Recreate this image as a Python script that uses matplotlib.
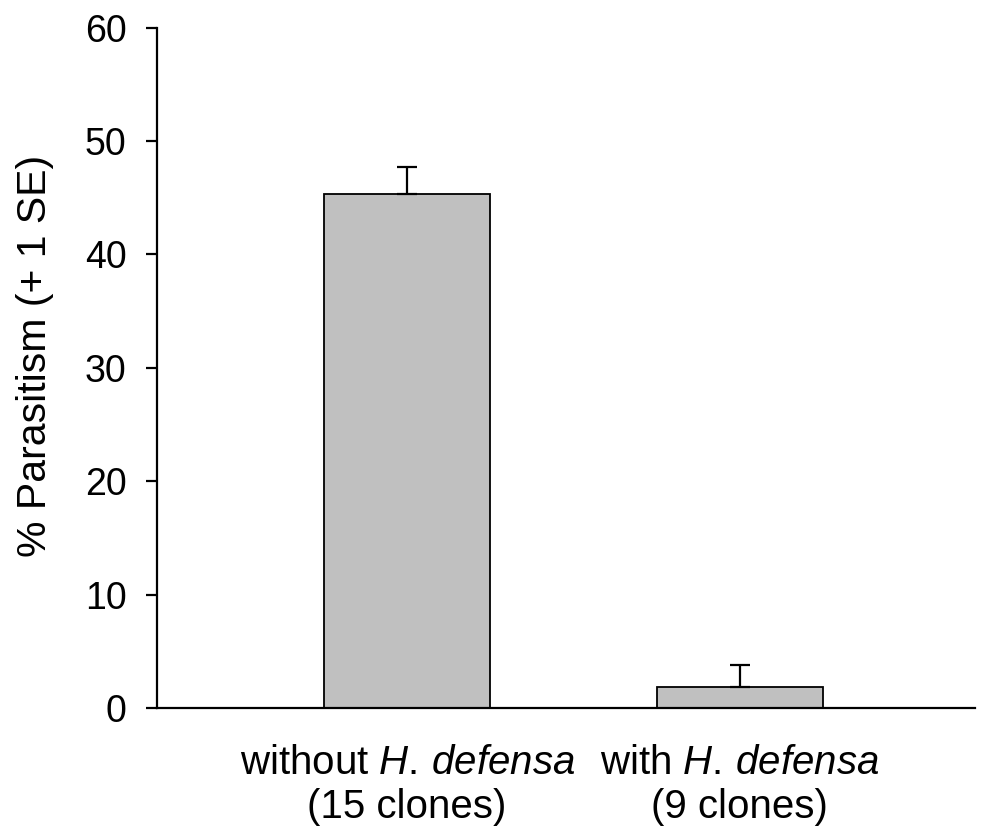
import matplotlib
matplotlib.use('Agg')
import matplotlib.pyplot as plt

plt.rcParams['font.family'] = ['Liberation Sans', 'DejaVu Sans']
plt.rcParams['mathtext.fontset'] = 'custom'
plt.rcParams['mathtext.rm'] = 'Liberation Sans'
plt.rcParams['mathtext.it'] = 'Liberation Sans:italic'

# datos
grupos = ['without $\\mathit{H.\\,defensa}$\n(15 clones)',
          'with $\\mathit{H.\\,defensa}$\n(9 clones)']
parasitismo = [45.3, 1.9]
error_se = [2.4, 1.9]

fig = plt.figure(figsize=(9.82, 8.39), dpi=100)
ax = fig.add_axes([0.16, 0.156, 0.833, 0.811])

pos = [1, 2]
ax.bar(pos, parasitismo, width=0.5, color='#c0c0c0', edgecolor='black', linewidth=1.3, zorder=2)
ax.errorbar(pos, parasitismo, yerr=[[0, 0], error_se], fmt='none', ecolor='black',
            elinewidth=1.6, capsize=7.5, capthick=1.6, zorder=3)

ax.set_xlim(0.248, 2.708)
ax.set_ylim(0, 60)
ax.set_yticks(range(0, 61, 10))
ax.set_xticks(pos)
ax.set_xticklabels(grupos, fontsize=29, linespacing=1.2)
ax.tick_params(axis='x', length=0, pad=26)
ax.tick_params(axis='y', labelsize=27, length=8, width=1.6, direction='out', pad=14)
ax.set_ylabel('% Parasitism (+ 1 SE)', fontsize=29.5, labelpad=22)
ax.yaxis.label.set_y(0.518)

ax.spines['top'].set_visible(False)
ax.spines['right'].set_visible(False)
ax.spines['left'].set_linewidth(1.6)
ax.spines['bottom'].set_linewidth(1.6)

fig.savefig('out.png', dpi=100)
